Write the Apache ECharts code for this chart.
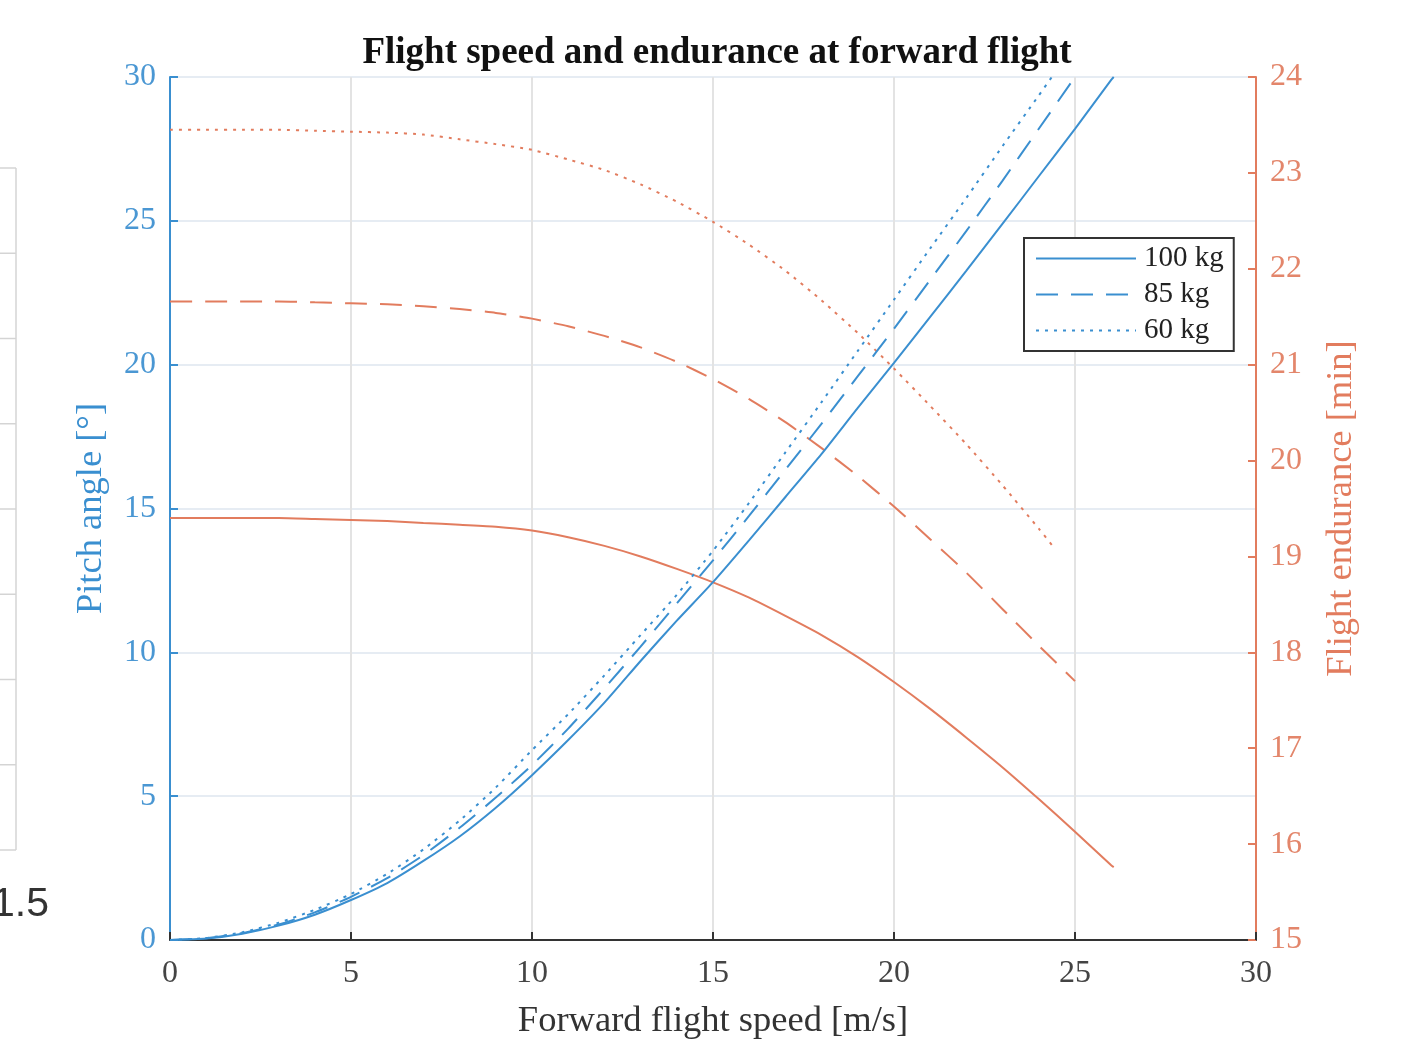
<!DOCTYPE html>
<html>
<head>
<meta charset="utf-8">
<script src="https://cdn.jsdelivr.net/npm/echarts@6/dist/echarts.min.js"></script>
<style>
html,body{margin:0;padding:0;background:#fff;}
#chart{width:1403px;height:1040px;}
</style>
</head>
<body>
<div id="chart"></div>
<script>
// ---- data ----
const massLabels = ['100 kg', '85 kg', '60 kg'];
const xTicks = [0, 5, 10, 15, 20, 25, 30];

const speed100 = [0,1,2,3,4,5,6,7,8,9,10,11,12,13,14,15,16,17,18,19,20,21,22,23,24,25,26,26.07];
const pitch100 = [0,0.05,0.22,0.5,0.88,1.39,1.98,2.75,3.6,4.6,5.73,6.95,8.25,9.7,11.1,12.44,13.9,15.4,16.9,18.5,20.06,21.66,23.27,24.9,26.55,28.2,29.9,30];
const endur100 = [19.40,19.40,19.40,19.40,19.39,19.38,19.37,19.35,19.33,19.31,19.27,19.20,19.11,19.00,18.87,18.73,18.57,18.38,18.18,17.95,17.69,17.41,17.11,16.80,16.47,16.13,15.78,15.76];

const speed85 = [0,1,2,3,4,5,6,7,8,9,10,11,12,13,14,15,16,17,18,19,20,21,22,23,24,25];
const pitch85 = [0,0.06,0.24,0.54,0.96,1.5,2.15,2.95,3.9,4.95,6.08,7.35,8.75,10.2,11.7,13.2,14.75,16.35,17.95,19.6,21.25,22.95,24.65,26.4,28.2,30];
const endur85 = [21.66,21.66,21.66,21.66,21.65,21.64,21.63,21.61,21.58,21.54,21.48,21.40,21.30,21.18,21.03,20.85,20.64,20.40,20.13,19.84,19.52,19.18,18.83,18.45,18.07,17.70];

const speed60 = [0,1,2,3,4,5,6,7,8,9,10,11,12,13,14,15,16,17,18,19,20,21,22,23,24,24.36];
const pitch60 = [0,0.07,0.27,0.6,1.05,1.6,2.3,3.15,4.15,5.3,6.6,7.85,9.2,10.6,12.0,13.53,15.2,16.95,18.7,20.48,22.26,24.04,25.8,27.6,29.36,30];
const endur60 = [23.45,23.45,23.45,23.45,23.44,23.43,23.42,23.40,23.35,23.30,23.24,23.14,23.03,22.88,22.70,22.49,22.25,21.98,21.67,21.33,20.96,20.57,20.17,19.74,19.29,19.12];

// ---- styling ----
const BLUE = '#3a8fd0';
const ORANGE = '#e27c5e';
const SERIF = '"Liberation Serif", "Times New Roman", serif';
const lineTypes = ['solid', [22, 13], [3, 6]];

function pairs(xs, ys) { return xs.map((x, i) => [x, ys[i]]); }

const speeds = [speed100, speed85, speed60];
const pitches = [pitch100, pitch85, pitch60];
const endurs = [endur100, endur85, endur60];

const series = [];
massLabels.forEach((name, k) => {
  series.push({
    name: name,
    type: 'line',
    yAxisIndex: 0,
    data: pairs(speeds[k], pitches[k]),
    showSymbol: false,
    symbol: 'none',
    smooth: 0.2,
    lineStyle: { color: BLUE, width: 2, type: lineTypes[k] },
    itemStyle: { color: BLUE },
    z: 3
  });
});
massLabels.forEach((name, k) => {
  series.push({
    name: name + ' endurance',
    type: 'line',
    yAxisIndex: 1,
    data: pairs(speeds[k], endurs[k]),
    showSymbol: false,
    symbol: 'none',
    smooth: 0.2,
    lineStyle: { color: ORANGE, width: 2, type: lineTypes[k] },
    itemStyle: { color: ORANGE },
    z: 2
  });
});

// decorative leftovers at the left edge of the screenshot (table fragment)
const tableRows = 8;
const decoGraphics = [];
for (let i = 0; i <= tableRows; i++) {
  decoGraphics.push({
    type: 'line', silent: true,
    shape: { x1: -5, y1: 168 + i * 85.25, x2: 16, y2: 168 + i * 85.25 },
    style: { stroke: '#d4d4d4', lineWidth: 1.5 }
  });
}
decoGraphics.push({
  type: 'line', silent: true,
  shape: { x1: 16, y1: 168, x2: 16, y2: 850 },
  style: { stroke: '#d4d4d4', lineWidth: 1.5 }
});
decoGraphics.push({
  type: 'text', silent: true, left: -8, top: 884,
  style: { text: '1.5', font: '41px "Liberation Sans", Arial, sans-serif', fill: '#333' }
});

const chart = echarts.init(document.getElementById('chart'), null, { renderer: 'canvas' });
chart.setOption({
  animation: false,
  backgroundColor: '#fff',
  title: {
    text: 'Flight speed and endurance at forward flight',
    left: 712, top: 30, textAlign: 'center',
    textStyle: { fontFamily: SERIF, fontWeight: 'bold', fontSize: 37, color: '#111' }
  },
  legend: {
    data: massLabels,
    orient: 'vertical',
    left: 1024, top: 238,
    backgroundColor: '#fff',
    borderColor: '#333', borderWidth: 2, borderRadius: 0,
    padding: [6, 10, 6, 11],
    itemWidth: 100, itemHeight: 14, itemGap: 7,
    itemStyle: { color: 'rgba(0,0,0,0)', borderWidth: 0, opacity: 0 },
    textStyle: { fontFamily: SERIF, fontSize: 29, color: '#222', padding: [0, 0, 0, 3] }
  },
  grid: { left: 170, right: 147, top: 77, bottom: 100, containLabel: false, outerBoundsMode: 'none' },
  xAxis: {
    type: 'value', min: 0, max: 30, interval: 5,
    name: 'Forward flight speed [m/s]', nameLocation: 'middle', nameGap: 63,
    nameTextStyle: { fontFamily: SERIF, fontSize: 36.5, color: '#333' },
    axisLine: { show: true, onZero: false, lineStyle: { color: '#333', width: 2 } },
    axisTick: { show: true, inside: true, length: 8, lineStyle: { color: '#333', width: 2 } },
    axisLabel: { fontFamily: SERIF, fontSize: 32, color: '#444', margin: 18,
                 formatter: v => xTicks.includes(v) ? String(v) : '' },
    splitLine: { show: true, lineStyle: { color: '#e3e3e3', width: 2 } }
  },
  yAxis: [
    {
      type: 'value', min: 0, max: 30, interval: 5, position: 'left',
      name: 'Pitch angle [°]', nameLocation: 'middle', nameGap: 60, nameRotate: 90,
      nameTextStyle: { fontFamily: SERIF, fontSize: 36.5, color: BLUE },
      axisLine: { show: true, onZero: false, lineStyle: { color: BLUE, width: 2 } },
      axisTick: { show: true, inside: true, length: 8, lineStyle: { color: BLUE, width: 2 } },
      axisLabel: { fontFamily: SERIF, fontSize: 32, color: '#4a97d3', margin: 14 },
      splitLine: { show: true, lineStyle: { color: '#e6ecf3', width: 2 } }
    },
    {
      type: 'value', min: 15, max: 24, interval: 1, position: 'right',
      name: 'Flight endurance [min]', nameLocation: 'middle', nameGap: 67, nameRotate: 90,
      nameTextStyle: { fontFamily: SERIF, fontSize: 36.5, color: ORANGE },
      axisLine: { show: true, onZero: false, lineStyle: { color: ORANGE, width: 2 } },
      axisTick: { show: true, inside: true, length: 8, lineStyle: { color: ORANGE, width: 2 } },
      axisLabel: { fontFamily: SERIF, fontSize: 32, color: '#e3866b', margin: 14 },
      splitLine: { show: false }
    }
  ],
  graphic: decoGraphics,
  series: series
});
</script>
</body>
</html>
